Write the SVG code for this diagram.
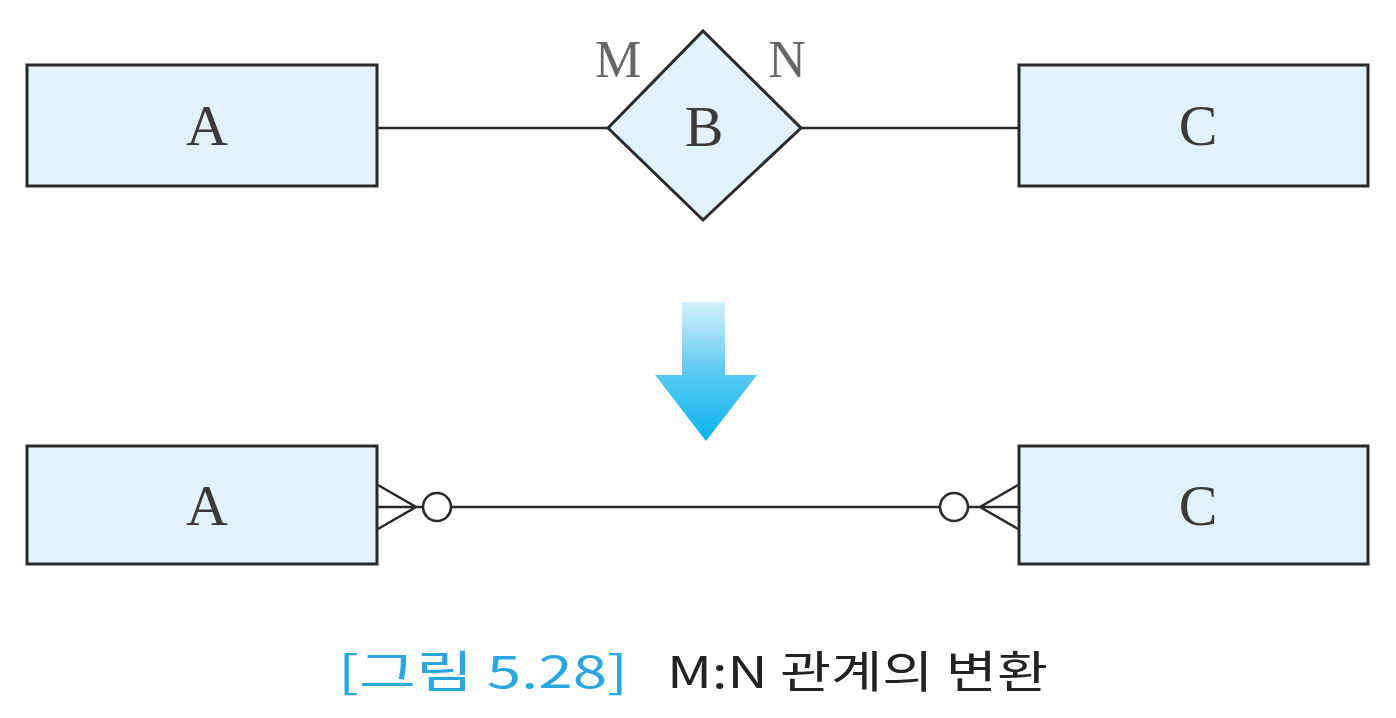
<svg xmlns="http://www.w3.org/2000/svg" width="1396" height="718" viewBox="0 0 1396 718">
<defs>
<linearGradient id="ag" x1="0" y1="0" x2="0" y2="1">
<stop offset="0" stop-color="#d6effb"/>
<stop offset="0.5" stop-color="#5ccaf2"/>
<stop offset="1" stop-color="#08b4ea"/>
</linearGradient>
</defs>
<style>
.box{fill:#e1f2fc;stroke:#2a2a2a;stroke-width:3}
.ln{fill:none;stroke:#2a2a2a;stroke-width:2.5}
.lbl{font-family:"Liberation Serif",serif;font-size:58px;fill:#3a3a3a;text-anchor:middle}
.card{font-family:"Liberation Serif",serif;font-size:52px;fill:#666;text-anchor:middle}
.cap{font-family:"Noto Sans CJK KR","Noto Sans",sans-serif;font-size:44px}
</style>
<rect width="1396" height="718" fill="#fff"/>
<g id="connectors">
<line class="ln" x1="377" y1="128" x2="608" y2="128"/>
<line class="ln" x1="801" y1="128" x2="1019" y2="128"/>
<line class="ln" x1="451" y1="507" x2="940" y2="507"/>
<path class="ln" d="M378 485 L416 507 L378 529 M378 507 L423 507"/>
<circle class="ln" cx="437" cy="507" r="14" fill="#fff"/>
<path class="ln" d="M1018 485 L980 507 L1018 529 M1018 507 L969 507"/>
<circle class="ln" cx="954" cy="507" r="14" fill="#fff"/>
</g>
<g id="A1"><rect class="box" x="27" y="65" width="350" height="121"/><text class="lbl" x="207" y="145">A</text></g>
<g id="B"><polygon class="box" points="608,128 703,31 801,128 703,220"/><text class="lbl" x="704" y="146">B</text></g>
<g id="C1"><rect class="box" x="1019" y="65" width="349" height="121"/><text class="lbl" x="1198" y="145">C</text></g>
<g id="cardM"><text class="card" x="618" y="77">M</text></g>
<g id="cardN"><text class="card" x="787" y="77">N</text></g>
<g id="arrow"><polygon points="682,302 725,302 725,375 757,375 706,441 655,375 682,375" fill="url(#ag)"/></g>
<g id="A2"><rect class="box" x="27" y="446" width="350" height="118"/><text class="lbl" x="207" y="525">A</text></g>
<g id="C2"><rect class="box" x="1019" y="446" width="349" height="118"/><text class="lbl" x="1198" y="525">C</text></g>
<g id="caption">
<text class="cap" x="338" y="688" fill="#2aa6e0" textLength="290" lengthAdjust="spacingAndGlyphs">[그림 5.28]</text>
<text class="cap" x="667" y="688" fill="#222" textLength="381" lengthAdjust="spacingAndGlyphs">M:N 관계의 변환</text>
</g>
</svg>
